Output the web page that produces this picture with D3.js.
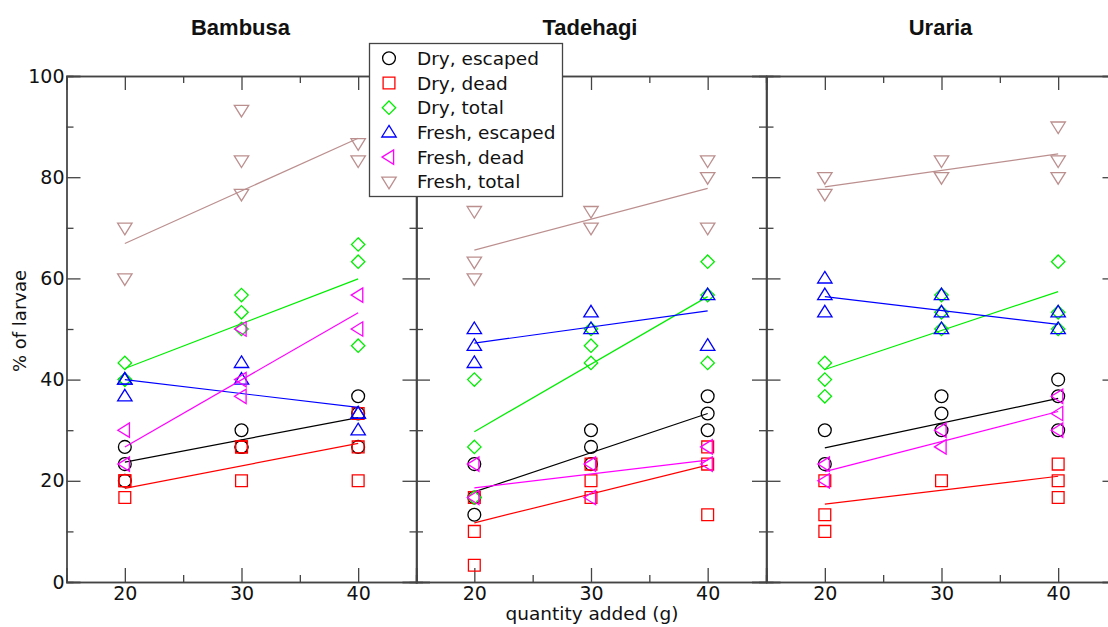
<!DOCTYPE html>
<html>
<head>
<meta charset="utf-8">
<script src="https://cdn.jsdelivr.net/npm/d3@7"></script>
<style>
  body { margin: 0; background: #fff; }
  text { font-family: "DejaVu Sans", sans-serif; fill: #111; }
</style>
</head>
<body>
<script>
'use strict';

// plant species, one panel each
const panels = ['Bambusa', 'Tadehagi', 'Uraria']
const quantities = [20, 30, 40]
const seriesNames = ['Dry, escaped', 'Dry, dead', 'Dry, total', 'Fresh, escaped', 'Fresh, dead', 'Fresh, total']

// values: panel -> quantity (20, 30, 40) -> replicates (% of larvae)
const dryEscaped = [
    [[26.7, 23.3, 20], [30, 26.7, 26.7], [36.7, 33.3, 26.7]],
    [[23.3, 16.7, 13.3], [30, 26.7, 23.3], [36.7, 33.3, 30]],
    [[30, 23.3], [36.7, 33.3, 30], [40, 36.7, 30]]
]
const dryDead = [
    [[20, 20, 16.7], [26.7, 26.7, 20], [33.3, 26.7, 20]],
    [[16.7, 10, 3.3], [23.3, 20, 16.7], [26.7, 23.3, 13.3]],
    [[20, 13.3, 10], [20], [23.3, 20, 16.7]]
]
const dryTotal = [
    [[43.3, 40, 40], [56.7, 53.3, 50], [66.7, 63.3, 46.7]],
    [[40, 26.7, 16.7], [50, 46.7, 43.3], [63.3, 56.7, 43.3]],
    [[43.3, 40, 36.7], [56.7, 53.3, 50], [63.3, 53.3, 50]]
]
const freshEscaped = [
    [[40, 40, 36.7], [43.3, 40], [33.3, 33.3, 30]],
    [[50, 46.7, 43.3], [53.3, 50], [56.7, 46.7]],
    [[60, 56.7, 53.3], [56.7, 53.3, 50], [53.3, 50]]
]
const freshDead = [
    [[30, 23.3], [50, 40, 36.7], [56.7, 50]],
    [[23.3, 16.7], [23.3, 16.7], [26.7, 23.3]],
    [[23.3, 20], [30, 26.7], [36.7, 33.3, 30]]
]
const freshTotal = [
    [[70, 60], [93.3, 83.3, 76.7], [86.7, 83.3]],
    [[73.3, 63.3, 60], [73.3, 70], [83.3, 80, 70]],
    [[80, 76.7], [83.3, 80], [90, 83.3, 80]]
]

// fitted lines: panel -> [value at 20, value at 40]
const dryEscapedFit = [[23.7, 32.5], [17.8, 33.3], [26.5, 36.3]]
const dryDeadFit = [[18.5, 27.4], [11.7, 23.1], [15.4, 20.9]]
const dryTotalFit = [[42.2, 59.9], [29.7, 56.4], [42, 57.4]]
const freshEscapedFit = [[40, 34.5], [47.2, 53.6], [56.4, 50.9]]
const freshDeadFit = [[26.7, 53.2], [18.6, 24.1], [21.8, 33.7]]
const freshTotalFit = [[66.9, 87.7], [65.6, 77.8], [78.1, 84.6]]

const yTicks = [0, 20, 40, 60, 80, 100]

const series = [
    {name: seriesNames[0], dados: dryEscaped, fit: dryEscapedFit, cor: '#000000', forma: 'circle'},
    {name: seriesNames[1], dados: dryDead, fit: dryDeadFit, cor: '#ff0000', forma: 'square'},
    {name: seriesNames[2], dados: dryTotal, fit: dryTotalFit, cor: '#00ee00', forma: 'diamond'},
    {name: seriesNames[3], dados: freshEscaped, fit: freshEscapedFit, cor: '#0000ff', forma: 'up'},
    {name: seriesNames[4], dados: freshDead, fit: freshDeadFit, cor: '#ff00ff', forma: 'left'},
    {name: seriesNames[5], dados: freshTotal, fit: freshTotalFit, cor: '#bc8f8f', forma: 'down'}
]

const largura = 1108, altura = 627
const topo = 76, base = 582
const panelLeft = [66.5, 416, 766.5]
const panelWidth = 350
const corEixo = '#444'

function marcador(forma) {
    if (forma === 'circle') return d3.arc()({innerRadius: 0, outerRadius: 6.4, startAngle: 0, endAngle: 2 * Math.PI})
    if (forma === 'square') return 'M-5.9,-5.9H5.9V5.9H-5.9Z'
    if (forma === 'diamond') return 'M0,-6.7L6.7,0L0,6.7L-6.7,0Z'
    if (forma === 'up') return 'M0,-7L7.2,4.6L-7.2,4.6Z'
    if (forma === 'down') return 'M0,7L7.2,-4.6L-7.2,-4.6Z'
    if (forma === 'left') return 'M-7,0L4.6,-7.2L4.6,7.2Z'
}

const svg = d3.select('body').append('svg')
    .attr('width', largura)
    .attr('height', altura)

const escalaY = d3.scaleLinear().domain([0, 100]).range([base, topo])

panels.forEach((nome, p) => {
    const escalaX = d3.scaleLinear()
        .domain([15, 45])
        .range([panelLeft[p], panelLeft[p] + panelWidth])
    const g = svg.append('g')

    // four sides, ticks pointing inside
    const eixos = [
        {ax: d3.axisBottom(escalaX).tickValues(quantities).tickSize(-14).tickPadding(4), t: `translate(0,${base})`, rotulo: true},
        {ax: d3.axisBottom(escalaX).tickValues([25, 35]).tickSize(-7), t: `translate(0,${base})`},
        {ax: d3.axisTop(escalaX).tickValues(quantities).tickSize(-14), t: `translate(0,${topo})`},
        {ax: d3.axisTop(escalaX).tickValues([25, 35]).tickSize(-7), t: `translate(0,${topo})`},
        {ax: d3.axisLeft(escalaY).tickValues(yTicks).tickSize(-14).tickPadding(2), t: `translate(${panelLeft[p]},0)`, rotulo: p === 0},
        {ax: d3.axisLeft(escalaY).tickValues([10, 30, 50, 70, 90]).tickSize(-7), t: `translate(${panelLeft[p]},0)`},
        {ax: d3.axisRight(escalaY).tickValues(yTicks).tickSize(-14), t: `translate(${panelLeft[p] + panelWidth},0)`},
        {ax: d3.axisRight(escalaY).tickValues([10, 30, 50, 70, 90]).tickSize(-7), t: `translate(${panelLeft[p] + panelWidth},0)`}
    ]
    for (let e of eixos) {
        if (!e.rotulo) e.ax.tickFormat('')
        const ge = g.append('g').attr('transform', e.t).call(e.ax)
        ge.select('.domain').attr('stroke', corEixo).attr('stroke-width', 1.3)
        ge.selectAll('.tick line').attr('stroke', corEixo).attr('stroke-width', 1.3)
        ge.selectAll('.tick text')
            .attr('font-family', '"DejaVu Sans", sans-serif')
            .attr('font-size', 19)
            .attr('fill', '#111')
    }

    // panel title
    g.append('text')
        .attr('x', escalaX(30) - 1)
        .attr('y', 35)
        .attr('text-anchor', 'middle')
        .style('font-family', '"Liberation Sans", Arial, sans-serif')
        .style('font-weight', 'bold')
        .style('font-size', '22px')
        .text(nome)

    for (let s of series) {
        const pontos = []
        s.dados[p].forEach((valores, i) => {
            for (let v of valores) pontos.push({x: quantities[i], y: v})
        })
        g.selectAll(null).data(pontos).enter().append('path')
            .attr('d', marcador(s.forma))
            .attr('transform', (d) => `translate(${escalaX(d.x)},${escalaY(d.y)})`)
            .attr('fill', 'none')
            .attr('stroke', s.cor)
            .attr('stroke-width', 1.3)

        g.append('line')
            .attr('x1', escalaX(quantities[0]))
            .attr('y1', escalaY(s.fit[p][0]))
            .attr('x2', escalaX(quantities[2]))
            .attr('y2', escalaY(s.fit[p][1]))
            .attr('stroke', s.cor)
            .attr('stroke-width', 1.2)
    }
})

// axis titles
svg.append('text')
    .attr('x', 592)
    .attr('y', 620)
    .attr('text-anchor', 'middle')
    .style('font-size', '18.5px')
    .text('quantity added (g)')

svg.append('text')
    .attr('transform', 'translate(26,321) rotate(-90)')
    .attr('text-anchor', 'middle')
    .style('font-size', '18px')
    .text('% of larvae')

// legend
const legenda = svg.append('g')
legenda.append('rect')
    .attr('x', 369.5).attr('y', 43.5)
    .attr('width', 193).attr('height', 153)
    .attr('fill', '#fff')
    .attr('stroke', corEixo)
    .attr('stroke-width', 1.3)
series.forEach((s, i) => {
    const y = 58.3 + i * 24.7
    legenda.append('path')
        .attr('d', marcador(s.forma))
        .attr('transform', `translate(389,${y})`)
        .attr('fill', 'none')
        .attr('stroke', s.cor)
        .attr('stroke-width', 1.3)
    legenda.append('text')
        .attr('x', 417)
        .attr('y', y)
        .attr('dy', '0.36em')
        .style('font-size', '18.5px')
        .text(s.name)
})
</script>
</body>
</html>
